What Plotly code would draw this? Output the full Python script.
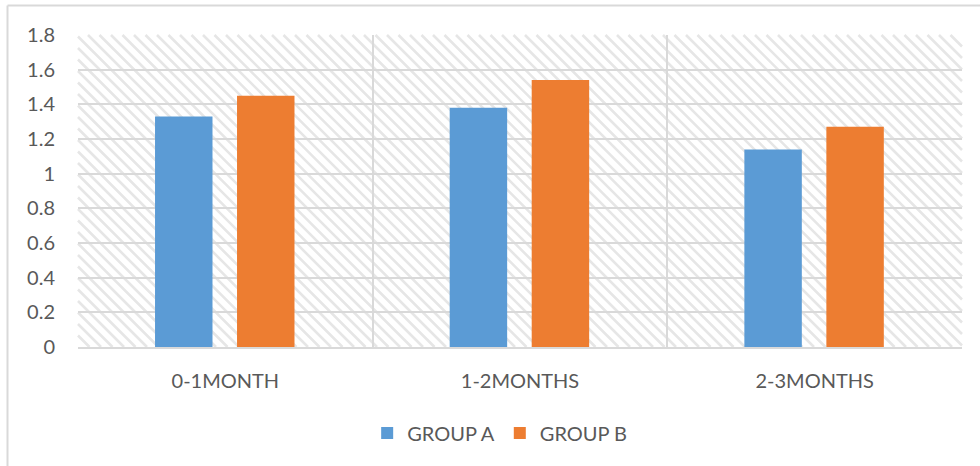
import numpy as np
import plotly.graph_objects as go

# Data
categories = ["0-1MONTH", "1-2MONTHS", "2-3MONTHS"]
group_a = [1.33, 1.38, 1.14]
group_b = [1.45, 1.54, 1.27]
y_ticks = [0, 0.2, 0.4, 0.6, 0.8, 1.0, 1.2, 1.4, 1.6, 1.8]
y_tick_labels = ["0", "0.2", "0.4", "0.6", "0.8", "1", "1.2", "1.4", "1.6", "1.8"]

# Canvas and plot area geometry (px)
FIG_W, FIG_H = 980, 466
PLOT_L, PLOT_R, PLOT_T, PLOT_B = 78, 962, 35, 347
W = PLOT_R - PLOT_L
H = PLOT_B - PLOT_T

TEXT = "#595959"
GRID = "#d9d9d9"
FONT = "Lato"

fig = go.Figure()
fig.add_trace(go.Bar(
    name="GROUP A", x=categories, y=group_a,
    marker=dict(color="#5B9BD5", line=dict(width=0)),
    width=0.195, offset=-0.2386,
))
fig.add_trace(go.Bar(
    name="GROUP B", x=categories, y=group_b,
    marker=dict(color="#ED7D31", line=dict(width=0)),
    width=0.195, offset=0.0397,
))

# Diagonal hatch fill of the plot area, drawn under the grid
step = 11.5
segs = []
for c in np.arange(-H, W + step, step):
    x0, y0 = (c, 0.0) if c >= 0 else (0.0, -c)
    x1 = c + H
    y1 = H
    if x1 > W:
        x1, y1 = W, W - c
    if x0 >= W or y0 >= H:
        continue
    segs.append(f"M{x0 / W:.5f},{1 - y0 / H:.5f}L{x1 / W:.5f},{1 - y1 / H:.5f}")
fig.add_shape(type="path", path="".join(segs), xref="paper", yref="paper",
              line=dict(color="#e6e6e6", width=2.6), layer="below")

# Chart frame (left and top edges)
def px_x(v):
    return (v - PLOT_L) / W

def px_y(v):
    return (PLOT_B - v) / H

fig.add_shape(type="line", xref="paper", yref="paper",
              x0=px_x(7.5), x1=px_x(FIG_W + 5), y0=px_y(5.5), y1=px_y(5.5),
              line=dict(color=GRID, width=2), layer="above")
fig.add_shape(type="line", xref="paper", yref="paper",
              x0=px_x(7.5), x1=px_x(7.5), y0=px_y(5.5), y1=px_y(FIG_H + 5),
              line=dict(color=GRID, width=2), layer="above")

fig.update_layout(
    width=FIG_W, height=FIG_H,
    margin=dict(l=PLOT_L, r=FIG_W - PLOT_R, t=PLOT_T, b=FIG_H - PLOT_B, autoexpand=False),
    paper_bgcolor="white", plot_bgcolor="white",
    font=dict(family=FONT, size=20, color=TEXT),
    barmode="overlay",
    showlegend=True,
    legend=dict(orientation="h", x=0.477, xanchor="center", y=px_y(433), yanchor="middle",
                font=dict(family=FONT, size=20, color=TEXT), bgcolor="rgba(0,0,0,0)",
                itemwidth=30, traceorder="normal"),
    hovermode=False,
)
fig.update_xaxes(
    type="category", range=[-0.5, 2.5], tickson="boundaries",
    showgrid=True, gridcolor=GRID, gridwidth=2,
    showline=True, linecolor=GRID, linewidth=2,
    ticks="", ticklabelstandoff=15, zeroline=False,
)
fig.update_yaxes(
    range=[0, 1.8], tickvals=y_ticks, ticktext=y_tick_labels,
    showgrid=True, gridcolor=GRID, gridwidth=2,
    showline=False, zeroline=False, ticks="", ticklabelstandoff=22,
)

fig.write_html("out.html")
